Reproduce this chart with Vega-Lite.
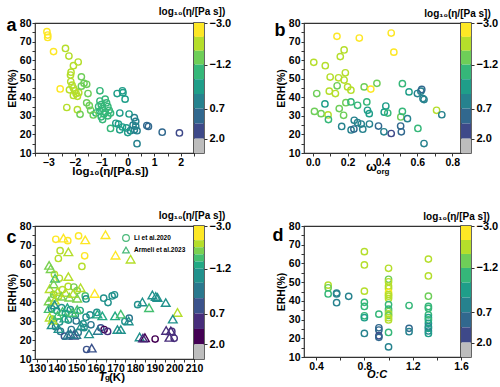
{
  "$schema": "https://vega.github.io/schema/vega-lite/v6.json",
  "padding": {"left": 5, "top": 5, "right": 0, "bottom": 0},
  "background": "white",
  "datasets": {
    "viscosity": [
      {"logEta": -3.05, "erh": 75.3}, {"logEta": -3.02, "erh": 73.5}, {"logEta": -3.02, "erh": 72.2}, {"logEta": -2.8, "erh": 64.6},
      {"logEta": -2.55, "erh": 44.5}, {"logEta": -2.35, "erh": 66.3}, {"logEta": -2.22, "erh": 62.2}, {"logEta": -1.87, "erh": 59.0},
      {"logEta": -2.05, "erh": 57.0}, {"logEta": -2.14, "erh": 53.5}, {"logEta": -2.16, "erh": 52.0}, {"logEta": -1.75, "erh": 51.0},
      {"logEta": -2.15, "erh": 48.5}, {"logEta": -2.1, "erh": 46.5}, {"logEta": -2.05, "erh": 45.0}, {"logEta": -2.2, "erh": 44.0},
      {"logEta": -2.0, "erh": 43.5}, {"logEta": -1.95, "erh": 42.0}, {"logEta": -2.05, "erh": 41.0}, {"logEta": -1.9, "erh": 40.5},
      {"logEta": -1.85, "erh": 42.5}, {"logEta": -1.65, "erh": 47.5}, {"logEta": -1.55, "erh": 47.0}, {"logEta": -1.75, "erh": 46.0},
      {"logEta": -1.5, "erh": 42.0}, {"logEta": -2.3, "erh": 34.5}, {"logEta": -1.9, "erh": 33.3}, {"logEta": -1.8, "erh": 30.8},
      {"logEta": -1.55, "erh": 37.0}, {"logEta": -1.45, "erh": 35.5}, {"logEta": -1.4, "erh": 33.0}, {"logEta": -1.2, "erh": 31.5},
      {"logEta": -1.3, "erh": 30.5}, {"logEta": -1.05, "erh": 43.5}, {"logEta": -1.05, "erh": 38.0}, {"logEta": -1.0, "erh": 36.0},
      {"logEta": -1.1, "erh": 35.0}, {"logEta": -0.95, "erh": 34.0}, {"logEta": -1.05, "erh": 32.5}, {"logEta": -0.9, "erh": 31.0},
      {"logEta": -1.0, "erh": 29.5}, {"logEta": -0.95, "erh": 28.0}, {"logEta": -0.85, "erh": 39.0}, {"logEta": -0.8, "erh": 37.0},
      {"logEta": -0.75, "erh": 35.0}, {"logEta": -0.7, "erh": 33.0}, {"logEta": -0.65, "erh": 31.5}, {"logEta": -0.75, "erh": 30.0},
      {"logEta": -0.85, "erh": 32.0}, {"logEta": -0.65, "erh": 23.2}, {"logEta": -0.4, "erh": 42.0}, {"logEta": -0.2, "erh": 43.5},
      {"logEta": -0.18, "erh": 42.5}, {"logEta": -0.1, "erh": 39.0}, {"logEta": -0.3, "erh": 31.5}, {"logEta": 0.05, "erh": 31.0},
      {"logEta": 0.25, "erh": 29.0}, {"logEta": 0.3, "erh": 27.0}, {"logEta": -0.45, "erh": 26.0}, {"logEta": -0.35, "erh": 25.5},
      {"logEta": -0.2, "erh": 24.0}, {"logEta": -0.05, "erh": 23.5}, {"logEta": 0.1, "erh": 22.0}, {"logEta": 0.2, "erh": 25.0},
      {"logEta": 0.3, "erh": 24.5}, {"logEta": 0.25, "erh": 22.5}, {"logEta": 0.35, "erh": 22.0}, {"logEta": -0.3, "erh": 22.5},
      {"logEta": 0.0, "erh": 21.0}, {"logEta": 0.35, "erh": 15.0}, {"logEta": 0.72, "erh": 24.8}, {"logEta": 0.78, "erh": 24.3},
      {"logEta": 1.3, "erh": 21.2}, {"logEta": 1.95, "erh": 20.8}
    ],
    "organic": [
      {"w": 0.139, "erh": 72.8, "eta": -2.8}, {"w": 0.267, "erh": 71.9, "eta": -2.8}, {"w": 0.45, "erh": 74.6, "eta": -2.8}, {"w": 0.465, "erh": 64.3, "eta": -2.8},
      {"w": 0.18, "erh": 65.5, "eta": -2.1}, {"w": 0.158, "erh": 61.9, "eta": -2.1}, {"w": 0.006, "erh": 58.8, "eta": -2.1}, {"w": 0.072, "erh": 57.0, "eta": -2.1},
      {"w": 0.023, "erh": 42.0, "eta": -1.5}, {"w": 0.01, "erh": 32.4, "eta": -1.5}, {"w": 0.048, "erh": 31.2, "eta": -1.5}, {"w": 0.088, "erh": 30.5, "eta": -2.1},
      {"w": 0.09, "erh": 28.0, "eta": -0.9}, {"w": 0.07, "erh": 36.4, "eta": -0.25}, {"w": 0.1, "erh": 50.9, "eta": -2.1}, {"w": 0.095, "erh": 43.3, "eta": -2.1},
      {"w": 0.13, "erh": 42.0, "eta": -2.1}, {"w": 0.14, "erh": 46.2, "eta": -1.5}, {"w": 0.148, "erh": 50.5, "eta": -2.1}, {"w": 0.187, "erh": 53.2, "eta": -2.1},
      {"w": 0.18, "erh": 49.3, "eta": -2.1}, {"w": 0.152, "erh": 33.9, "eta": -1.5}, {"w": 0.177, "erh": 30.3, "eta": -1.5}, {"w": 0.166, "erh": 24.3, "eta": 0.4},
      {"w": 0.19, "erh": 37.1, "eta": -1.5}, {"w": 0.2, "erh": 45.6, "eta": -2.1}, {"w": 0.219, "erh": 43.8, "eta": -2.1}, {"w": 0.219, "erh": 37.5, "eta": -0.9},
      {"w": 0.257, "erh": 35.7, "eta": -0.9}, {"w": 0.238, "erh": 27.6, "eta": 0.4}, {"w": 0.22, "erh": 22.4, "eta": 0.4}, {"w": 0.236, "erh": 22.9, "eta": 1.0},
      {"w": 0.257, "erh": 26.3, "eta": 0.4}, {"w": 0.278, "erh": 25.6, "eta": 0.4}, {"w": 0.287, "erh": 22.8, "eta": 0.4}, {"w": 0.295, "erh": 45.6, "eta": -1.5},
      {"w": 0.31, "erh": 37.5, "eta": -0.9}, {"w": 0.314, "erh": 33.0, "eta": -0.25}, {"w": 0.324, "erh": 31.2, "eta": -0.25}, {"w": 0.325, "erh": 25.6, "eta": 0.4},
      {"w": 0.333, "erh": 44.4, "eta": -2.8}, {"w": 0.368, "erh": 47.5, "eta": -1.5}, {"w": 0.377, "erh": 24.5, "eta": 1.0}, {"w": 0.408, "erh": 21.4, "eta": 0.4},
      {"w": 0.419, "erh": 35.3, "eta": -0.25}, {"w": 0.41, "erh": 32.0, "eta": -0.25}, {"w": 0.43, "erh": 31.5, "eta": -0.9}, {"w": 0.45, "erh": 20.5, "eta": 1.7},
      {"w": 0.504, "erh": 24.5, "eta": 1.0}, {"w": 0.508, "erh": 21.4, "eta": 1.0}, {"w": 0.505, "erh": 29.4, "eta": -1.5}, {"w": 0.514, "erh": 32.4, "eta": -0.9},
      {"w": 0.514, "erh": 47.3, "eta": -0.9}, {"w": 0.552, "erh": 42.9, "eta": -0.25}, {"w": 0.543, "erh": 28.5, "eta": 0.4}, {"w": 0.6, "erh": 42.0, "eta": 0.4},
      {"w": 0.62, "erh": 43.3, "eta": 0.4}, {"w": 0.625, "erh": 44.2, "eta": 1.0}, {"w": 0.632, "erh": 39.3, "eta": 0.4}, {"w": 0.638, "erh": 38.8, "eta": 0.4},
      {"w": 0.603, "erh": 23.2, "eta": -0.9}, {"w": 0.638, "erh": 15.1, "eta": 0.4}, {"w": 0.71, "erh": 33.0, "eta": -2.1}, {"w": 0.74, "erh": 30.6, "eta": 0.4}
    ],
    "glass": [
      {"tg": 139.6, "erh": 73.0, "eta": -2.7, "src": "Li et al.2020"}, {"tg": 145.7, "erh": 72.3, "eta": -2.7, "src": "Li et al.2020"},
      {"tg": 151.2, "erh": 74.8, "eta": -2.7, "src": "Li et al.2020"}, {"tg": 154.3, "erh": 64.3, "eta": -2.7, "src": "Li et al.2020"},
      {"tg": 152.9, "erh": 58.7, "eta": -2.25, "src": "Li et al.2020"}, {"tg": 141.8, "erh": 67.0, "eta": -2.25, "src": "Li et al.2020"},
      {"tg": 140.9, "erh": 62.9, "eta": -2.25, "src": "Li et al.2020"}, {"tg": 138.9, "erh": 54.5, "eta": -2.25, "src": "Li et al.2020"},
      {"tg": 141.4, "erh": 52.5, "eta": -2.25, "src": "Li et al.2020"}, {"tg": 145.9, "erh": 48.2, "eta": -2.25, "src": "Li et al.2020"},
      {"tg": 148.8, "erh": 47.9, "eta": -1.95, "src": "Li et al.2020"}, {"tg": 143.0, "erh": 46.5, "eta": -2.25, "src": "Li et al.2020"},
      {"tg": 138.5, "erh": 44.0, "eta": -1.95, "src": "Li et al.2020"}, {"tg": 141.0, "erh": 43.0, "eta": -2.25, "src": "Li et al.2020"},
      {"tg": 150.5, "erh": 46.0, "eta": -1.95, "src": "Li et al.2020"}, {"tg": 154.6, "erh": 43.2, "eta": -1.65, "src": "Li et al.2020"},
      {"tg": 155.0, "erh": 41.6, "eta": -0.9, "src": "Li et al.2020"}, {"tg": 164.0, "erh": 42.0, "eta": -0.9, "src": "Li et al.2020"},
      {"tg": 166.2, "erh": 39.7, "eta": -0.9, "src": "Li et al.2020"}, {"tg": 168.3, "erh": 43.2, "eta": -0.9, "src": "Li et al.2020"},
      {"tg": 169.5, "erh": 43.8, "eta": -0.9, "src": "Li et al.2020"}, {"tg": 181.3, "erh": 38.6, "eta": -0.9, "src": "Li et al.2020"},
      {"tg": 137.5, "erh": 36.5, "eta": -0.9, "src": "Li et al.2020"}, {"tg": 140.0, "erh": 35.5, "eta": -1.35, "src": "Li et al.2020"},
      {"tg": 142.5, "erh": 37.0, "eta": -0.9, "src": "Li et al.2020"}, {"tg": 144.5, "erh": 34.0, "eta": -1.35, "src": "Li et al.2020"},
      {"tg": 147.0, "erh": 36.0, "eta": -0.9, "src": "Li et al.2020"}, {"tg": 149.5, "erh": 33.0, "eta": -0.9, "src": "Li et al.2020"},
      {"tg": 152.0, "erh": 35.5, "eta": -1.35, "src": "Li et al.2020"}, {"tg": 155.0, "erh": 32.0, "eta": -0.9, "src": "Li et al.2020"},
      {"tg": 157.0, "erh": 33.2, "eta": -0.9, "src": "Li et al.2020"}, {"tg": 160.5, "erh": 34.5, "eta": -0.9, "src": "Li et al.2020"},
      {"tg": 138.0, "erh": 31.0, "eta": -1.65, "src": "Li et al.2020"}, {"tg": 141.5, "erh": 29.5, "eta": -0.9, "src": "Li et al.2020"},
      {"tg": 146.0, "erh": 30.5, "eta": -0.9, "src": "Li et al.2020"}, {"tg": 150.0, "erh": 30.0, "eta": -0.3, "src": "Li et al.2020"},
      {"tg": 153.5, "erh": 28.5, "eta": -0.9, "src": "Li et al.2020"}, {"tg": 139.5, "erh": 27.0, "eta": -0.3, "src": "Li et al.2020"},
      {"tg": 142.0, "erh": 24.5, "eta": -0.3, "src": "Li et al.2020"}, {"tg": 144.0, "erh": 22.0, "eta": 0.4, "src": "Li et al.2020"},
      {"tg": 147.5, "erh": 25.5, "eta": -0.3, "src": "Li et al.2020"}, {"tg": 151.0, "erh": 24.0, "eta": -0.3, "src": "Li et al.2020"},
      {"tg": 154.0, "erh": 26.5, "eta": -0.9, "src": "Li et al.2020"}, {"tg": 157.5, "erh": 28.0, "eta": -0.3, "src": "Li et al.2020"},
      {"tg": 162.5, "erh": 26.4, "eta": 0.4, "src": "Li et al.2020"}, {"tg": 164.2, "erh": 25.5, "eta": 1.7, "src": "Li et al.2020"},
      {"tg": 166.0, "erh": 24.5, "eta": 1.0, "src": "Li et al.2020"}, {"tg": 155.3, "erh": 15.0, "eta": 0.4, "src": "Li et al.2020"},
      {"tg": 174.8, "erh": 29.8, "eta": -0.9, "src": "Li et al.2020"}, {"tg": 177.0, "erh": 31.5, "eta": -0.3, "src": "Li et al.2020"},
      {"tg": 190.2, "erh": 20.5, "eta": 1.7, "src": "Li et al.2020"}, {"tg": 198.7, "erh": 24.5, "eta": 1.0, "src": "Li et al.2020"},
      {"tg": 199.9, "erh": 20.9, "eta": 1.0, "src": "Li et al.2020"},
      {"tg": 143.5, "erh": 73.6, "eta": -2.7, "src": "Armeli et al.2023"}, {"tg": 154.6, "erh": 72.7, "eta": -2.7, "src": "Armeli et al.2023"},
      {"tg": 164.9, "erh": 75.4, "eta": -2.7, "src": "Armeli et al.2023"}, {"tg": 170.0, "erh": 64.6, "eta": -2.7, "src": "Armeli et al.2023"},
      {"tg": 177.7, "erh": 62.5, "eta": -2.25, "src": "Armeli et al.2023"}, {"tg": 146.0, "erh": 66.4, "eta": -2.25, "src": "Armeli et al.2023"},
      {"tg": 136.2, "erh": 59.3, "eta": -1.95, "src": "Armeli et al.2023"}, {"tg": 137.0, "erh": 57.5, "eta": -1.95, "src": "Armeli et al.2023"},
      {"tg": 139.2, "erh": 52.5, "eta": -1.65, "src": "Armeli et al.2023"}, {"tg": 146.0, "erh": 53.4, "eta": -2.25, "src": "Armeli et al.2023"},
      {"tg": 159.4, "erh": 44.5, "eta": -2.7, "src": "Armeli et al.2023"}, {"tg": 152.2, "erh": 47.5, "eta": -2.25, "src": "Armeli et al.2023"},
      {"tg": 137.7, "erh": 42.5, "eta": -1.95, "src": "Armeli et al.2023"}, {"tg": 136.5, "erh": 47.0, "eta": -2.25, "src": "Armeli et al.2023"},
      {"tg": 138.5, "erh": 49.5, "eta": -1.95, "src": "Armeli et al.2023"}, {"tg": 140.5, "erh": 45.5, "eta": -2.25, "src": "Armeli et al.2023"},
      {"tg": 142.5, "erh": 43.0, "eta": -1.95, "src": "Armeli et al.2023"}, {"tg": 144.5, "erh": 45.0, "eta": -2.25, "src": "Armeli et al.2023"},
      {"tg": 146.5, "erh": 42.5, "eta": -1.95, "src": "Armeli et al.2023"}, {"tg": 148.5, "erh": 44.5, "eta": -2.25, "src": "Armeli et al.2023"},
      {"tg": 150.5, "erh": 42.0, "eta": -1.95, "src": "Armeli et al.2023"}, {"tg": 136.0, "erh": 40.5, "eta": -1.95, "src": "Armeli et al.2023"},
      {"tg": 139.0, "erh": 41.0, "eta": -2.25, "src": "Armeli et al.2023"}, {"tg": 136.0, "erh": 36.5, "eta": -1.65, "src": "Armeli et al.2023"},
      {"tg": 136.5, "erh": 32.0, "eta": -2.25, "src": "Armeli et al.2023"}, {"tg": 138.0, "erh": 30.5, "eta": -2.25, "src": "Armeli et al.2023"},
      {"tg": 140.5, "erh": 33.0, "eta": -1.65, "src": "Armeli et al.2023"}, {"tg": 143.0, "erh": 35.0, "eta": -1.65, "src": "Armeli et al.2023"},
      {"tg": 145.5, "erh": 37.0, "eta": -1.35, "src": "Armeli et al.2023"}, {"tg": 148.0, "erh": 34.5, "eta": -1.65, "src": "Armeli et al.2023"},
      {"tg": 150.5, "erh": 36.0, "eta": -1.65, "src": "Armeli et al.2023"}, {"tg": 144.0, "erh": 31.5, "eta": -1.35, "src": "Armeli et al.2023"},
      {"tg": 160.8, "erh": 33.6, "eta": -1.35, "src": "Armeli et al.2023"}, {"tg": 163.3, "erh": 32.7, "eta": -1.35, "src": "Armeli et al.2023"},
      {"tg": 169.8, "erh": 32.7, "eta": -1.35, "src": "Armeli et al.2023"}, {"tg": 172.7, "erh": 33.6, "eta": -1.65, "src": "Armeli et al.2023"},
      {"tg": 176.7, "erh": 30.0, "eta": -0.9, "src": "Armeli et al.2023"}, {"tg": 137.5, "erh": 28.0, "eta": -0.9, "src": "Armeli et al.2023"},
      {"tg": 141.0, "erh": 26.0, "eta": -0.9, "src": "Armeli et al.2023"}, {"tg": 145.5, "erh": 22.5, "eta": -0.3, "src": "Armeli et al.2023"},
      {"tg": 148.8, "erh": 22.5, "eta": 0.4, "src": "Armeli et al.2023"}, {"tg": 147.1, "erh": 23.2, "eta": -0.3, "src": "Armeli et al.2023"},
      {"tg": 150.0, "erh": 22.9, "eta": -0.3, "src": "Armeli et al.2023"}, {"tg": 156.5, "erh": 23.2, "eta": -0.9, "src": "Armeli et al.2023"},
      {"tg": 152.5, "erh": 27.5, "eta": -0.9, "src": "Armeli et al.2023"}, {"tg": 157.9, "erh": 15.7, "eta": 0.4, "src": "Armeli et al.2023"},
      {"tg": 171.0, "erh": 25.5, "eta": -0.9, "src": "Armeli et al.2023"}, {"tg": 172.7, "erh": 25.5, "eta": -0.9, "src": "Armeli et al.2023"},
      {"tg": 182.3, "erh": 21.6, "eta": -0.9, "src": "Armeli et al.2023"}, {"tg": 185.0, "erh": 21.2, "eta": 1.7, "src": "Armeli et al.2023"},
      {"tg": 184.0, "erh": 21.0, "eta": 1.0, "src": "Armeli et al.2023"}, {"tg": 188.8, "erh": 43.7, "eta": -0.9, "src": "Armeli et al.2023"},
      {"tg": 190.5, "erh": 42.9, "eta": -0.9, "src": "Armeli et al.2023"}, {"tg": 191.4, "erh": 42.4, "eta": -0.9, "src": "Armeli et al.2023"},
      {"tg": 195.6, "erh": 39.7, "eta": -0.9, "src": "Armeli et al.2023"}, {"tg": 187.1, "erh": 37.0, "eta": -1.65, "src": "Armeli et al.2023"},
      {"tg": 183.7, "erh": 40.0, "eta": -0.9, "src": "Armeli et al.2023"}, {"tg": 201.6, "erh": 34.5, "eta": -2.25, "src": "Armeli et al.2023"},
      {"tg": 199.2, "erh": 31.0, "eta": -0.9, "src": "Armeli et al.2023"}, {"tg": 198.2, "erh": 24.8, "eta": 1.0, "src": "Armeli et al.2023"},
      {"tg": 197.5, "erh": 21.4, "eta": 1.0, "src": "Armeli et al.2023"}, {"tg": 195.8, "erh": 25.0, "eta": 1.0, "src": "Armeli et al.2023"},
      {"tg": 161.0, "erh": 25.0, "eta": -0.3, "src": "Armeli et al.2023"}, {"tg": 139.0, "erh": 38.5, "eta": -0.9, "src": "Armeli et al.2023"}
    ],
    "oxidation": [
      {"oc": 0.5, "erh": 48.4, "eta": -2.1}, {"oc": 0.5, "erh": 47.0, "eta": -1.5}, {"oc": 0.5, "erh": 43.7, "eta": -0.9},
      {"oc": 0.57, "erh": 43.7, "eta": 0.4}, {"oc": 0.57, "erh": 44.2, "eta": 0.4}, {"oc": 0.57, "erh": 39.0, "eta": 0.4},
      {"oc": 0.67, "erh": 42.4, "eta": 0.4},
      {"oc": 0.8, "erh": 66.3, "eta": -2.1}, {"oc": 0.8, "erh": 59.2, "eta": -2.1}, {"oc": 0.8, "erh": 45.2, "eta": -2.1},
      {"oc": 0.8, "erh": 39.2, "eta": -0.9}, {"oc": 0.8, "erh": 37.0, "eta": -0.9}, {"oc": 0.8, "erh": 32.0, "eta": -0.9},
      {"oc": 0.8, "erh": 31.0, "eta": -0.25}, {"oc": 0.8, "erh": 22.6, "eta": 0.4},
      {"oc": 0.92, "erh": 32.9, "eta": -0.9}, {"oc": 0.92, "erh": 25.6, "eta": 1.0}, {"oc": 0.92, "erh": 24.4, "eta": 1.0},
      {"oc": 0.92, "erh": 21.3, "eta": 1.7}, {"oc": 0.92, "erh": 20.5, "eta": 1.0},
      {"oc": 1.0, "erh": 57.4, "eta": -2.1}, {"oc": 1.0, "erh": 51.5, "eta": -1.5}, {"oc": 1.0, "erh": 50.2, "eta": -2.1},
      {"oc": 1.0, "erh": 47.9, "eta": -2.1}, {"oc": 1.0, "erh": 46.6, "eta": -2.1}, {"oc": 1.0, "erh": 44.5, "eta": -2.8},
      {"oc": 1.0, "erh": 43.4, "eta": -2.1}, {"oc": 1.0, "erh": 42.5, "eta": -2.1}, {"oc": 1.0, "erh": 41.2, "eta": -2.1},
      {"oc": 1.0, "erh": 38.0, "eta": -0.9}, {"oc": 1.0, "erh": 35.6, "eta": -0.9}, {"oc": 1.0, "erh": 34.3, "eta": -1.5},
      {"oc": 1.0, "erh": 33.0, "eta": -2.1}, {"oc": 1.0, "erh": 32.2, "eta": -1.5}, {"oc": 1.0, "erh": 31.0, "eta": -2.1},
      {"oc": 1.0, "erh": 29.8, "eta": -2.1}, {"oc": 1.0, "erh": 23.1, "eta": -0.9}, {"oc": 1.0, "erh": 15.4, "eta": 0.4},
      {"oc": 1.17, "erh": 37.5, "eta": -0.9}, {"oc": 1.17, "erh": 25.3, "eta": 1.0}, {"oc": 1.17, "erh": 23.5, "eta": 0.4},
      {"oc": 1.33, "erh": 62.3, "eta": -2.1}, {"oc": 1.33, "erh": 53.3, "eta": -2.1}, {"oc": 1.33, "erh": 42.5, "eta": -1.5},
      {"oc": 1.33, "erh": 37.0, "eta": -0.9}, {"oc": 1.33, "erh": 36.0, "eta": -0.9}, {"oc": 1.33, "erh": 32.5, "eta": -0.9},
      {"oc": 1.33, "erh": 31.0, "eta": -0.25}, {"oc": 1.33, "erh": 29.8, "eta": -0.9}, {"oc": 1.33, "erh": 28.0, "eta": -0.25},
      {"oc": 1.33, "erh": 26.2, "eta": 0.4}, {"oc": 1.33, "erh": 25.3, "eta": -0.25}, {"oc": 1.33, "erh": 23.9, "eta": 0.4},
      {"oc": 1.33, "erh": 22.6, "eta": -0.25}
    ],
    "bands8": [
      {"lo": -3.0, "hi": -2.4, "mid": -2.7}, {"lo": -2.4, "hi": -1.8, "mid": -2.1}, {"lo": -1.8, "hi": -1.2, "mid": -1.5},
      {"lo": -1.2, "hi": -0.57, "mid": -0.9}, {"lo": -0.57, "hi": 0.07, "mid": -0.25}, {"lo": 0.07, "hi": 0.7, "mid": 0.4},
      {"lo": 0.7, "hi": 1.35, "mid": 1.0}, {"lo": 1.35, "hi": 2.0, "mid": 1.7}, {"lo": 2.0, "hi": 2.62, "mid": 2.3}
    ],
    "bands10": [
      {"lo": -3.0, "hi": -2.4, "mid": -2.7}, {"lo": -2.4, "hi": -2.1, "mid": -2.25}, {"lo": -2.1, "hi": -1.8, "mid": -1.95},
      {"lo": -1.8, "hi": -1.5, "mid": -1.65}, {"lo": -1.5, "hi": -1.2, "mid": -1.35}, {"lo": -1.2, "hi": -0.6, "mid": -0.9},
      {"lo": -0.6, "hi": 0.05, "mid": -0.3}, {"lo": 0.05, "hi": 0.7, "mid": 0.4}, {"lo": 0.7, "hi": 1.35, "mid": 1.0},
      {"lo": 1.35, "hi": 2.0, "mid": 1.7}, {"lo": 2.0, "hi": 2.62, "mid": 2.3}
    ]
  },
  "columns": 5,
  "spacing": {"row": 73, "column": 0},
  "bounds": "flush",
  "align": "each",
  "concat": [
    {
      "data": {"name": "viscosity"},
      "width": 159, "height": 130,
      "mark": {"type": "point", "shape": "circle", "filled": false, "size": 40, "strokeWidth": 1.4, "opacity": 1},
      "encoding": {
        "x": {"field": "logEta", "type": "quantitative",
          "scale": {"domain": [-3.5, 2.5], "nice": false, "zero": false},
          "axis": {"title": "log₁₀(η/[Pa.s])", "titleFontSize": 11.5, "titleX": 75, "titleY": 21.5, "titleAlign": "center", "titleBaseline": "alphabetic",
            "values": [-3.5, -3, -2.5, -2, -1.5, -1, -0.5, 0, 0.5, 1, 1.5, 2, 2.5],
            "labelExpr": "datum.value % 1 === 0 ? format(datum.value, 'd') : ''", "labelFlush": false, "labelOverlap": false}},
        "y": {"field": "erh", "type": "quantitative",
          "scale": {"domain": [10, 80], "nice": false, "zero": false},
          "axis": {"title": "ERH(%)", "values": [10, 15, 20, 25, 30, 35, 40, 45, 50, 55, 60, 65, 70, 75, 80],
            "labelExpr": "datum.value % 10 === 0 ? datum.label : ''", "labelOverlap": false}},
        "color": {"field": "logEta", "type": "quantitative", "legend": null,
          "scale": {"type": "threshold", "domain": [-2.4, -1.8, -1.2, -0.57, 0.07, 0.7, 1.35, 2.0],
            "range": ["#fde725", "#b5de2b", "#6ece58", "#35b779", "#1f9e89", "#26828e", "#31688e", "#3e4989", "#bdbdbd"]}}
      }
    },
    {
      "data": {"name": "bands8"},
      "width": 10, "height": 130,
      "view": {"stroke": "#333", "strokeWidth": 1.5},
      "mark": {"type": "rect"},
      "encoding": {
        "x": {"datum": 0, "type": "quantitative", "scale": {"domain": [0, 1], "nice": false, "zero": false},
          "axis": {"title": "a", "titleFontSize": 18, "titleX": -188, "titleY": -123, "titleAlign": "left", "titleBaseline": "alphabetic",
            "labels": false, "ticks": false, "domain": false, "grid": false}},
        "x2": {"datum": 1},
        "y": {"field": "lo", "type": "quantitative", "scale": {"domain": [-3, 2.62], "reverse": true, "nice": false, "zero": false},
          "axis": {"orient": "right", "values": [-3, -1.2, 0.7, 2], "format": ".1f", "labelPadding": 2, "labelFontSize": 11,
            "title": "log₁₀(η/[Pa s])", "titleFontSize": 10, "titleAngle": 0, "titleX": -12.5, "titleY": -8.5, "titleAlign": "center", "titleBaseline": "alphabetic"}},
        "y2": {"field": "hi"},
        "color": {"field": "mid", "type": "quantitative", "legend": null,
          "scale": {"type": "threshold", "domain": [-2.4, -1.8, -1.2, -0.57, 0.07, 0.7, 1.35, 2.0],
            "range": ["#fde725", "#b5de2b", "#6ece58", "#35b779", "#1f9e89", "#26828e", "#31688e", "#3e4989", "#bdbdbd"]}}
      }
    },
    {
      "data": {"values": [{"u": 0, "v": 0}]},
      "width": 100, "height": 130,
      "view": {"stroke": null},
      "mark": {"type": "point", "opacity": 0},
      "encoding": {
        "x": {"field": "u", "type": "quantitative", "scale": {"domain": [-1, 1]},
          "axis": {"title": "org", "titleFontSize": 8, "titleX": 172, "titleY": 20.5, "titleAlign": "left", "titleBaseline": "alphabetic",
            "labels": false, "ticks": false, "domain": false, "grid": false}},
        "y": {"field": "v", "type": "quantitative", "scale": {"domain": [-1, 1]},
          "axis": {"title": "b", "titleFontSize": 18, "titleAngle": 0, "titleX": 70, "titleY": 12, "titleAlign": "left", "titleBaseline": "alphabetic",
            "labels": false, "ticks": false, "domain": false, "grid": false}}
      }
    },
    {
      "data": {"name": "organic"},
      "width": 157, "height": 130,
      "mark": {"type": "point", "shape": "circle", "filled": false, "size": 40, "strokeWidth": 1.4, "opacity": 1},
      "encoding": {
        "x": {"field": "w", "type": "quantitative",
          "scale": {"domain": [-0.05, 0.85], "nice": false, "zero": false},
          "axis": {"title": "ω", "titleFontSize": 13, "titleX": 67, "titleY": 17, "titleAlign": "center", "titleBaseline": "alphabetic",
            "values": [0, 0.1, 0.2, 0.3, 0.4, 0.5, 0.6, 0.7, 0.8],
            "labelExpr": "round(datum.value * 10) % 2 === 0 ? format(datum.value, '.1f') : ''", "labelFlush": false, "labelOverlap": false}},
        "y": {"field": "erh", "type": "quantitative",
          "scale": {"domain": [10, 80], "nice": false, "zero": false},
          "axis": {"title": "ERH(%)", "values": [10, 15, 20, 25, 30, 35, 40, 45, 50, 55, 60, 65, 70, 75, 80],
            "labelExpr": "datum.value % 10 === 0 ? datum.label : ''", "labelOverlap": false}},
        "color": {"field": "eta", "type": "quantitative", "legend": null,
          "scale": {"type": "threshold", "domain": [-2.4, -1.8, -1.2, -0.57, 0.07, 0.7, 1.35, 2.0],
            "range": ["#fde725", "#b5de2b", "#6ece58", "#35b779", "#1f9e89", "#26828e", "#31688e", "#3e4989", "#bdbdbd"]}}
      }
    },
    {
      "data": {"name": "bands8"},
      "width": 10, "height": 130,
      "view": {"stroke": "#333", "strokeWidth": 1.5},
      "mark": {"type": "rect"},
      "encoding": {
        "x": {"datum": 0, "type": "quantitative", "scale": {"domain": [0, 1], "nice": false, "zero": false}, "axis": null},
        "x2": {"datum": 1},
        "y": {"field": "lo", "type": "quantitative", "scale": {"domain": [-3, 2.62], "reverse": true, "nice": false, "zero": false},
          "axis": {"orient": "right", "values": [-3, -1.2, 0.7, 2], "format": ".1f", "labelPadding": 2, "labelFontSize": 11,
            "title": "log₁₀(η/[Pa s])", "titleFontSize": 10, "titleAngle": 0, "titleX": -14, "titleY": -7, "titleAlign": "center", "titleBaseline": "alphabetic"}},
        "y2": {"field": "hi"},
        "color": {"field": "mid", "type": "quantitative", "legend": null,
          "scale": {"type": "threshold", "domain": [-2.4, -1.8, -1.2, -0.57, 0.07, 0.7, 1.35, 2.0],
            "range": ["#fde725", "#b5de2b", "#6ece58", "#35b779", "#1f9e89", "#26828e", "#31688e", "#3e4989", "#bdbdbd"]}}
      }
    },
    {
      "data": {"name": "glass"},
      "width": 159, "height": 133,
      "mark": {"type": "point", "filled": false, "strokeWidth": 1.4, "opacity": 1},
      "encoding": {
        "x": {"field": "tg", "type": "quantitative",
          "scale": {"domain": [129, 210], "nice": false, "zero": false},
          "axis": {"title": "T", "titleFontStyle": "italic", "titleFontSize": 12, "titleX": 63, "titleY": 21.5, "titleAlign": "left", "titleBaseline": "alphabetic",
            "values": [130, 135, 140, 145, 150, 155, 160, 165, 170, 175, 180, 185, 190, 195, 200, 205, 210],
            "labelExpr": "datum.value % 10 === 0 ? datum.label : ''", "labelFlush": false, "labelOverlap": false}},
        "y": {"field": "erh", "type": "quantitative",
          "scale": {"domain": [10, 80], "nice": false, "zero": false},
          "axis": {"title": "ERH(%)", "values": [10, 15, 20, 25, 30, 35, 40, 45, 50, 55, 60, 65, 70, 75, 80],
            "labelExpr": "datum.value % 10 === 0 ? datum.label : ''", "labelOverlap": false}},
        "color": {"field": "eta", "type": "quantitative", "legend": null,
          "scale": {"type": "threshold", "domain": [-2.4, -2.1, -1.8, -1.5, -1.2, -0.6, 0.05, 0.7, 1.35, 2.0],
            "range": ["#fde725", "#b5de2b", "#7ad151", "#44bf70", "#22a884", "#21918c", "#2a788e", "#3b528b", "#472d7b", "#440154", "#bdbdbd"]}},
        "shape": {"field": "src", "type": "nominal",
          "scale": {"domain": ["Li et al.2020", "Armeli et al.2023"], "range": ["circle", "triangle-up"]},
          "legend": {"orient": "top-right", "offset": 8, "title": null, "labelFontSize": 6.5, "labelFontWeight": "bold", "labelFont": "Liberation Sans",
            "symbolSize": 45, "symbolStrokeColor": "#4ab97a", "symbolFillColor": "transparent", "symbolStrokeWidth": 1.2,
            "rowPadding": 0, "labelOffset": 4, "padding": 0}},
        "size": {"condition": {"test": "datum.src === 'Armeli et al.2023'", "value": 75}, "value": 40}
      }
    },
    {
      "data": {"name": "bands10"},
      "width": 10, "height": 133,
      "view": {"stroke": "#333", "strokeWidth": 1.5},
      "mark": {"type": "rect"},
      "encoding": {
        "x": {"datum": 0, "type": "quantitative", "scale": {"domain": [0, 1], "nice": false, "zero": false},
          "axis": {"title": "(K)", "titleFontSize": 11.5, "titleX": -85.5, "titleY": 21.5, "titleAlign": "left", "titleBaseline": "alphabetic",
            "labels": false, "ticks": false, "domain": false, "grid": false}},
        "x2": {"datum": 1},
        "y": {"field": "lo", "type": "quantitative", "scale": {"domain": [-3, 2.62], "reverse": true, "nice": false, "zero": false},
          "axis": {"orient": "right", "values": [-3, -1.2, 0.7, 2], "format": ".1f", "labelPadding": 2, "labelFontSize": 11,
            "title": "log₁₀(η/[Pa s])", "titleFontSize": 10, "titleAngle": 0, "titleX": -12.5, "titleY": -7.5, "titleAlign": "center", "titleBaseline": "alphabetic"}},
        "y2": {"field": "hi"},
        "color": {"field": "mid", "type": "quantitative", "legend": null,
          "scale": {"type": "threshold", "domain": [-2.4, -2.1, -1.8, -1.5, -1.2, -0.6, 0.05, 0.7, 1.35, 2.0],
            "range": ["#fde725", "#b5de2b", "#7ad151", "#44bf70", "#22a884", "#21918c", "#2a788e", "#3b528b", "#472d7b", "#440154", "#bdbdbd"]}}
      }
    },
    {
      "data": {"values": [{"u": 0, "v": 0}]},
      "width": 100, "height": 130,
      "view": {"stroke": null},
      "mark": {"type": "point", "opacity": 0},
      "encoding": {
        "x": {"field": "u", "type": "quantitative", "scale": {"domain": [-1, 1]},
          "axis": {"title": "g", "titleFontSize": 8, "titleX": -99.5, "titleY": 23.5, "titleAlign": "left", "titleBaseline": "alphabetic",
            "labels": false, "ticks": false, "domain": false, "grid": false}},
        "y": {"field": "v", "type": "quantitative", "scale": {"domain": [-1, 1]},
          "axis": {"title": "c", "titleFontSize": 18, "titleAngle": 0, "titleX": -198, "titleY": 16, "titleAlign": "left", "titleBaseline": "alphabetic",
            "labels": false, "ticks": false, "domain": false, "grid": false}}
      }
    },
    {
      "data": {"name": "oxidation"},
      "width": 157, "height": 131,
      "mark": {"type": "point", "shape": "circle", "filled": false, "size": 40, "strokeWidth": 1.4, "opacity": 1},
      "encoding": {
        "x": {"field": "oc", "type": "quantitative",
          "scale": {"domain": [0.3, 1.6], "nice": false, "zero": false},
          "axis": {"title": "O:C", "titleFontStyle": "italic", "titleFontSize": 11, "titleX": 72.5, "titleY": 20.5, "titleAlign": "center", "titleBaseline": "alphabetic",
            "values": [0.4, 0.6, 0.8, 1.0, 1.2, 1.4, 1.6],
            "labelExpr": "round(datum.value * 10) % 4 === 0 ? format(datum.value, '.1f') : ''", "labelFlush": false, "labelOverlap": false}},
        "y": {"field": "erh", "type": "quantitative",
          "scale": {"domain": [10, 80], "nice": false, "zero": false},
          "axis": {"title": "ERH(%)", "values": [10, 15, 20, 25, 30, 35, 40, 45, 50, 55, 60, 65, 70, 75, 80],
            "labelExpr": "datum.value % 10 === 0 ? datum.label : ''", "labelOverlap": false}},
        "color": {"field": "eta", "type": "quantitative", "legend": null,
          "scale": {"type": "threshold", "domain": [-2.4, -1.8, -1.2, -0.57, 0.07, 0.7, 1.35, 2.0],
            "range": ["#fde725", "#b5de2b", "#6ece58", "#35b779", "#1f9e89", "#26828e", "#31688e", "#3e4989", "#bdbdbd"]}}
      }
    },
    {
      "data": {"name": "bands8"},
      "width": 10, "height": 131,
      "view": {"stroke": "#333", "strokeWidth": 1.5},
      "mark": {"type": "rect"},
      "encoding": {
        "x": {"datum": 0, "type": "quantitative", "scale": {"domain": [0, 1], "nice": false, "zero": false},
          "axis": {"title": "d", "titleFontSize": 18, "titleX": -189, "titleY": -117, "titleAlign": "left", "titleBaseline": "alphabetic",
            "labels": false, "ticks": false, "domain": false, "grid": false}},
        "x2": {"datum": 1},
        "y": {"field": "lo", "type": "quantitative", "scale": {"domain": [-3, 2.62], "reverse": true, "nice": false, "zero": false},
          "axis": {"orient": "right", "values": [-3, -1.2, 0.7, 2], "format": ".1f", "labelPadding": 2, "labelFontSize": 11,
            "title": "log₁₀(η/[Pa s])", "titleFontSize": 10, "titleAngle": 0, "titleX": -15, "titleY": -7, "titleAlign": "center", "titleBaseline": "alphabetic"}},
        "y2": {"field": "hi"},
        "color": {"field": "mid", "type": "quantitative", "legend": null,
          "scale": {"type": "threshold", "domain": [-2.4, -1.8, -1.2, -0.57, 0.07, 0.7, 1.35, 2.0],
            "range": ["#fde725", "#b5de2b", "#6ece58", "#35b779", "#1f9e89", "#26828e", "#31688e", "#3e4989", "#bdbdbd"]}}
      }
    }
  ],
  "resolve": {
    "scale": {"color": "independent", "shape": "independent", "size": "independent"},
    "legend": {"color": "independent", "shape": "independent", "size": "independent"}
  },
  "config": {
    "font": "Liberation Sans",
    "view": {"stroke": "#333", "strokeWidth": 1.2},
    "axis": {
      "domain": false, "grid": false, "ticks": true, "tickSize": 3, "tickColor": "#333", "tickWidth": 1,
      "labelFont": "Liberation Sans", "labelFontSize": 10.5, "labelFontWeight": "bold", "labelColor": "#000", "labelPadding": 1,
      "titleFont": "Liberation Sans", "titleFontSize": 10.5, "titleFontWeight": "bold", "titleColor": "#000", "titlePadding": 2
    },
    "title": {"font": "Liberation Sans", "fontWeight": "bold", "color": "#000"}
  }
}
